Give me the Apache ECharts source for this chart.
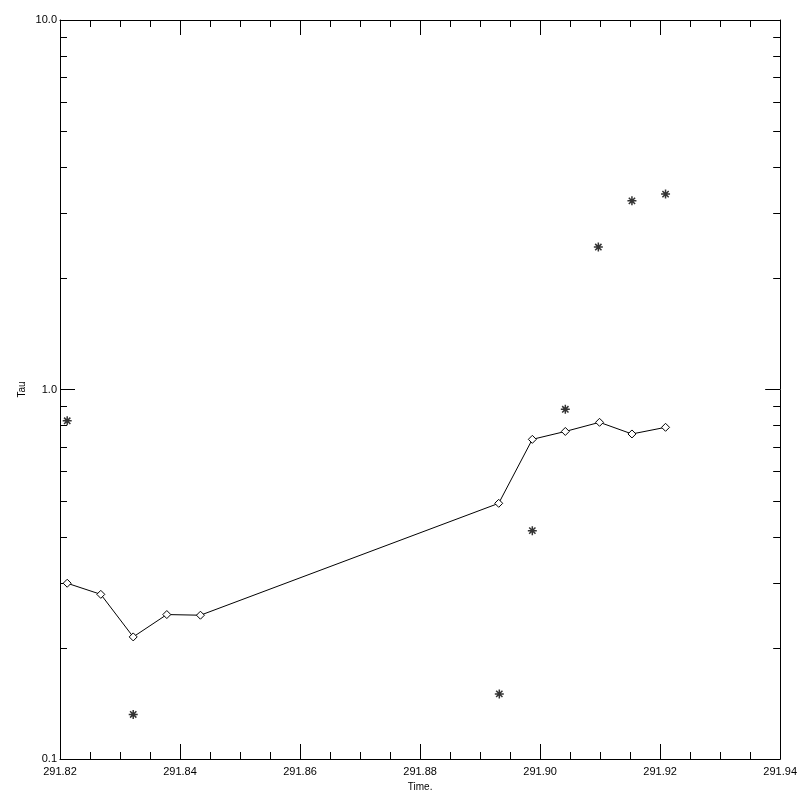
<!DOCTYPE html>
<html>
<head>
<meta charset="utf-8">
<script src="https://cdn.jsdelivr.net/npm/echarts@6/dist/echarts.min.js"></script>
<style>html,body{margin:0;padding:0;background:#fff;}#c{width:800px;height:800px;}</style>
</head>
<body>
<div id="c"></div>
<script>
// Data
const lineTimes = [291.8212, 291.8268, 291.8322, 291.8378, 291.8434, 291.8931, 291.8987, 291.9042, 291.9099, 291.9153, 291.9209];
const lineTau   = [0.299, 0.279, 0.214, 0.246, 0.245, 0.492, 0.733, 0.770, 0.815, 0.758, 0.790];
const starTimes = [291.8212, 291.8322, 291.8932, 291.8987, 291.9042, 291.9097, 291.9153, 291.9209];
const starTau   = [0.823, 0.132, 0.150, 0.415, 0.884, 2.43, 3.24, 3.38];
const xMin = 291.82, xMax = 291.94, xStep = 0.02;
const yMin = 0.1, yMax = 10;
const yMinorTicks = [0.2,0.3,0.4,0.5,0.6,0.7,0.8,0.9,2,3,4,5,6,7,8,9];
const xName = 'Time.';
const yName = 'Tau';

const FONT = 'Liberation Sans';
const chart = echarts.init(document.getElementById('c'), null, {renderer: 'canvas'});
const axisLine = {show: true, lineStyle: {color: '#000', width: 1}};
const xAxisBase = {
  type: 'value', min: xMin, max: xMax, interval: xStep,
  axisLine: axisLine,
  axisTick: {show: true, inside: true, length: 15, lineStyle: {color: '#000', width: 1}},
  minorTick: {show: true, splitNumber: 4, length: 7, lineStyle: {color: '#000', width: 1}},
  splitLine: {show: false}, minorSplitLine: {show: false}
};
const yAxisBase = {
  type: 'log', logBase: 10, min: yMin, max: yMax,
  axisLine: axisLine,
  axisTick: {show: true, inside: true, length: 15, lineStyle: {color: '#000', width: 1}},
  splitLine: {show: false}
};
const option = {
  backgroundColor: '#fff',
  animation: false,
  grid: {left: 60, right: 18, top: 20, bottom: 41},
  xAxis: [
    Object.assign({}, xAxisBase, {
      position: 'bottom',
      name: xName, nameLocation: 'middle', nameGap: 19,
      nameTextStyle: {fontFamily: FONT, fontSize: 10, color: '#000'},
      axisLabel: {show: true, margin: 7, fontFamily: FONT, fontSize: 11, color: '#000',
        formatter: v => v.toFixed(2)}
    }),
    Object.assign({}, xAxisBase, {position: 'top', axisLabel: {show: false}})
  ],
  yAxis: [
    Object.assign({}, yAxisBase, {
      position: 'left',
      name: yName, nameLocation: 'middle', nameGap: 33, nameRotate: 90, nameMoveOverlap: false,
      nameTextStyle: {fontFamily: FONT, fontSize: 10, color: '#000'},
      axisLabel: {show: true, margin: 3, fontFamily: FONT, fontSize: 11, color: '#000',
        formatter: v => Number(v).toFixed(1)}
    }),
    Object.assign({}, yAxisBase, {position: 'right', axisLabel: {show: false}})
  ],
  series: [
    {
      type: 'custom', xAxisIndex: 0, yAxisIndex: 0, silent: true,
      data: yMinorTicks.map(v => [xMin, v]),
      renderItem: function (params, api) {
        const cs = params.coordSys;
        const p = api.coord([api.value(0), api.value(1)]);
        const y = Math.round(p[1]) + 0.5;
        const st = {stroke: '#000', lineWidth: 1};
        return {type: 'group', children: [
          {type: 'line', shape: {x1: cs.x, y1: y, x2: cs.x + 7, y2: y}, style: st},
          {type: 'line', shape: {x1: cs.x + cs.width - 7, y1: y, x2: cs.x + cs.width, y2: y}, style: st}
        ]};
      },
      z: 1
    },
    {
      type: 'line', xAxisIndex: 0, yAxisIndex: 0,
      data: lineTimes.map((t, i) => [t, lineTau[i]]),
      symbol: 'diamond', symbolSize: 8, showAllSymbol: true,
      lineStyle: {color: '#000', width: 1},
      itemStyle: {color: '#fff', borderColor: '#000', borderWidth: 1},
      z: 3
    },
    {
      type: 'scatter', xAxisIndex: 0, yAxisIndex: 0,
      data: starTimes.map((t, i) => [t, starTau[i]]),
      symbol: 'path://M0,-10L0,10M-10,0L10,0M-7,-7L7,7M-7,7L7,-7',
      symbolSize: 9, symbolKeepAspect: true,
      itemStyle: {color: 'none', borderColor: '#000', borderWidth: 1.5},
      z: 3
    }
  ]
};
chart.setOption(option);
</script>
</body>
</html>
